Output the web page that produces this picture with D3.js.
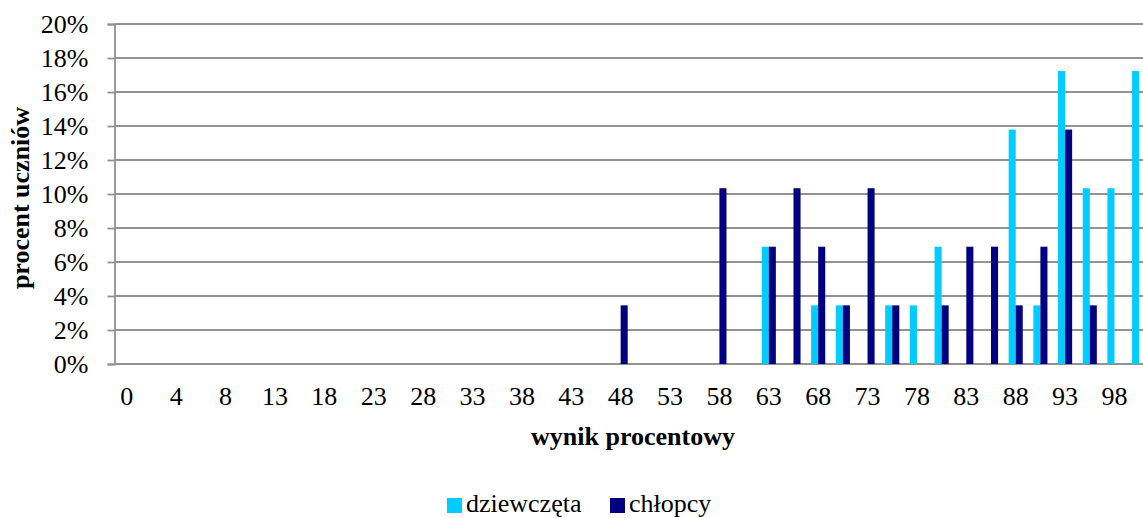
<!DOCTYPE html>
<html>
<head>
<meta charset="utf-8">
<script src="https://cdn.jsdelivr.net/npm/d3@7"></script>
<style>
  html, body { margin: 0; padding: 0; background: #fff; overflow: hidden; }
  svg { display: block; }
  text { font-family: "Liberation Serif", "Times New Roman", serif; fill: #000; }
</style>
</head>
<body>
<svg id="chart" width="1143" height="518" font-family="Liberation Serif, serif"></svg>
<script>
// Score categories (percent of points); every second one carries a tick label
const categories = [0, 2, 4, 6, 8, 11, 13, 16, 18, 21, 23, 26, 28, 31, 33, 36, 38, 41, 43, 46,
  48, 51, 53, 56, 58, 61, 63, 66, 68, 71, 73, 76, 78, 81, 83, 86, 88, 91, 93, 96, 98, 100];
const tickLabels = [0, 4, 8, 13, 18, 23, 28, 33, 38, 43, 48, 53, 58, 63, 68, 73, 78, 83, 88, 93, 98];

const seriesNames = ["dziewczęta", "chłopcy"];
const seriesColors = ["#00CCFF", "#000080"];

// Share of students (%) per score category
const girls = [0, 0, 0, 0, 0, 0, 0, 0, 0, 0, 0, 0, 0, 0, 0, 0, 0, 0, 0, 0,
  0, 0, 0, 0, 0, 0, 6.9, 0, 3.45, 3.45, 0, 3.45, 3.45, 6.9, 0, 0, 13.79, 3.45, 17.24, 10.34, 10.34, 17.24];
const boys = [0, 0, 0, 0, 0, 0, 0, 0, 0, 0, 0, 0, 0, 0, 0, 0, 0, 0, 0, 0,
  3.45, 0, 0, 0, 10.34, 0, 6.9, 10.34, 6.9, 3.45, 10.34, 3.45, 0, 3.45, 6.9, 6.9, 3.45, 6.9, 13.79, 3.45, 0, 0];

const yTicks = [0, 2, 4, 6, 8, 10, 12, 14, 16, 18, 20];

const svg = d3.select("#chart");
const plot = { left: 114.5, right: 1151.5, top: 24, bottom: 364 };
const gridColor = "#929292";
const fontSize = 26;
const serif = "'Liberation Serif', 'Times New Roman', serif";

const x = d3.scaleBand().domain(categories).range([plot.left, plot.right]).paddingInner(0).paddingOuter(0);
const xSub = d3.scaleBand().domain(seriesNames).range([0, x.bandwidth()]).paddingInner(0).paddingOuter(0.75);
const y = d3.scaleLinear().domain([0, 20]).range([plot.bottom, plot.top]);

// Horizontal gridlines
svg.append("g")
  .selectAll("line")
  .data(yTicks)
  .join("line")
  .attr("x1", plot.left)
  .attr("x2", plot.right)
  .attr("y1", d => y(d))
  .attr("y2", d => y(d))
  .attr("stroke", gridColor)
  .attr("stroke-width", 1.8);

// Y axis with outward tick marks
const yAxis = svg.append("g")
  .attr("transform", `translate(${plot.left},0)`)
  .call(d3.axisLeft(y).tickValues(yTicks).tickSize(7).tickPadding(19).tickFormat(d => d + "%"))
  .attr("font-family", serif)
  .attr("font-size", fontSize);
yAxis.select(".domain").attr("stroke", gridColor).attr("stroke-width", 1.8);
yAxis.selectAll(".tick line").attr("stroke", gridColor).attr("stroke-width", 1.8);
yAxis.selectAll(".tick text")
  .style("font-family", serif)
  .style("font-size", fontSize + "px")
  .attr("dy", "0.34em")
  .attr("fill", "#000");

// X axis labels (no tick marks)
const xAxis = svg.append("g")
  .attr("transform", `translate(0,${plot.bottom})`)
  .call(d3.axisBottom(x).tickValues(categories.filter(c => tickLabels.includes(c))).tickSize(0).tickPadding(23))
  .attr("font-family", serif)
  .attr("font-size", fontSize);
xAxis.select(".domain").remove();
xAxis.selectAll(".tick text")
  .style("font-family", serif)
  .style("font-size", fontSize + "px")
  .attr("fill", "#000");

// Bars
const seriesData = [girls, boys];
seriesNames.forEach((name, si) => {
  svg.append("g")
    .selectAll("rect")
    .data(categories.map((c, i) => ({ c, v: seriesData[si][i] })).filter(d => d.v > 0))
    .join("rect")
    .attr("x", d => x(d.c) + xSub(name))
    .attr("width", xSub.bandwidth())
    .attr("y", d => y(d.v))
    .attr("height", d => y(0) - y(d.v))
    .attr("fill", seriesColors[si]);
});

// Axis titles
svg.append("text")
  .attr("x", (plot.left + plot.right) / 2)
  .attr("y", 445)
  .attr("text-anchor", "middle")
  .style("font-family", serif)
  .style("font-size", fontSize + "px")
  .style("font-weight", "bold")
  .text("wynik procentowy");

svg.append("text")
  .attr("transform", `translate(29,${(plot.top + plot.bottom) / 2 + 4}) rotate(-90)`)
  .attr("text-anchor", "middle")
  .style("font-family", serif)
  .style("font-size", fontSize + "px")
  .style("font-weight", "bold")
  .text("procent uczniów");

// Legend
const legend = svg.append("g");
const legendItems = [{ name: seriesNames[0], color: seriesColors[0], x: 447 }, { name: seriesNames[1], color: seriesColors[1], x: 610 }];
legendItems.forEach(it => {
  legend.append("rect")
    .attr("x", it.x).attr("y", 498).attr("width", 15).attr("height", 15)
    .attr("fill", it.color);
  legend.append("text")
    .attr("x", it.x + 19).attr("y", 512)
    .style("font-family", serif)
    .style("font-size", fontSize + "px")
    .text(it.name);
});
</script>
</body>
</html>
